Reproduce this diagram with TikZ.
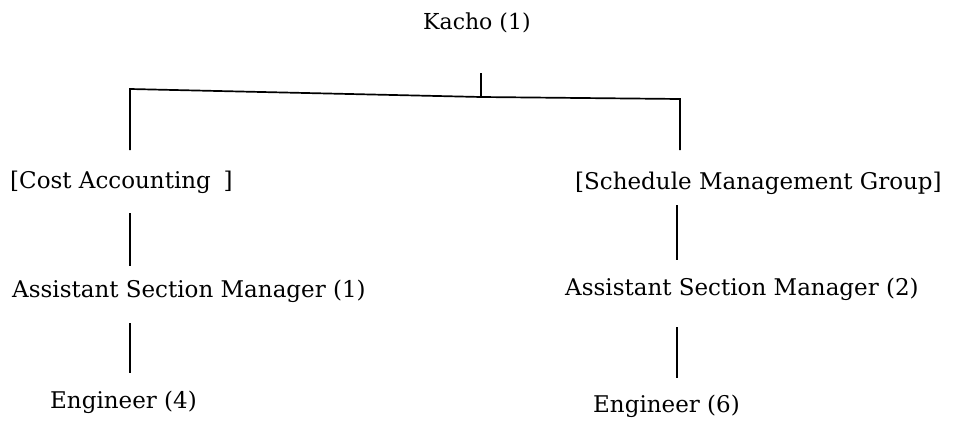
\documentclass[tikz,border=0pt]{standalone}
\usepackage{fontspec}
\setmainfont{DejaVu Serif}
\begin{document}
\begin{tikzpicture}[x=1pt,y=-1pt,
  lbl/.style={anchor=base west,inner sep=0pt,font=\fontsize{23}{27}\selectfont},
  conn/.style={line width=1.7pt,line cap=butt}]
\useasboundingbox (0,0) rectangle (960,420);
\node[lbl,font=\fontsize{22}{26}\selectfont] (kacho) at (423,30) {Kacho (1)};
\node[lbl] (cost) at (10,188) {[Cost Accounting\hspace{0.55em}]};
\node[lbl] (sched) at (575,189) {[Schedule Management Group]};
\node[lbl] (asm1) at (12,297) {Assistant Section Manager (1)};
\node[lbl] (asm2) at (565,295) {Assistant Section Manager (2)};
\node[lbl] (eng4) at (50,408) {Engineer (4)};
\node[lbl] (eng6) at (593,412) {Engineer (6)};
% tree junctions
\coordinate (ktop) at (481,73);
\coordinate (kjoin) at (481,97);
\coordinate (lcorner) at (130,89);
\coordinate (rcorner) at (680,99);
\coordinate (lbot) at (130,150);
\coordinate (rbot) at (680,150);
\coordinate (c1) at (130,213);
\coordinate (c2) at (130,266);
\coordinate (c3) at (130,323);
\coordinate (c4) at (130,373);
\coordinate (s1) at (677,205);
\coordinate (s2) at (677,260);
\coordinate (s3) at (677,327);
\coordinate (s4) at (677,378);
\draw[conn] (ktop) -- (kjoin);
\draw[conn] (lbot) -- (lcorner) -- (kjoin) -- (rcorner) -- (rbot);
\draw[conn] (c1) -- (c2);
\draw[conn] (c3) -- (c4);
\draw[conn] (s1) -- (s2);
\draw[conn] (s3) -- (s4);
\end{tikzpicture}
\end{document}
